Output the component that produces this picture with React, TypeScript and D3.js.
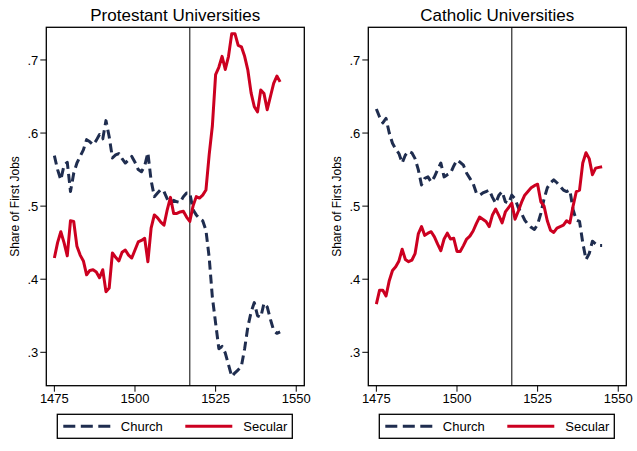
import * as d3 from 'd3';

// years 1475..1545, one reading per year
const years = d3.range(1475, 1546);

const protChurch = [
  0.569, 0.550, 0.536, 0.556, 0.560, 0.520, 0.545, 0.559, 0.568, 0.577,
  0.591, 0.588, 0.584, 0.590, 0.598, 0.592, 0.617, 0.595, 0.566, 0.570,
  0.572, 0.565, 0.559, 0.563, 0.568, 0.560, 0.550, 0.547, 0.555, 0.573,
  0.535, 0.513, 0.518, 0.523, 0.520, 0.510, 0.504, 0.508, 0.506, 0.505,
  0.513, 0.518, 0.518, 0.495, 0.488, 0.483, 0.480, 0.467, 0.430, 0.375,
  0.340, 0.305, 0.308, 0.299, 0.283, 0.267, 0.272, 0.276, 0.281, 0.305,
  0.335, 0.355, 0.368, 0.350, 0.348, 0.367, 0.362, 0.345, 0.330, 0.326,
  0.328,
];
const protSecular = [
  0.429, 0.450, 0.465, 0.450, 0.432, 0.480, 0.479, 0.445, 0.433, 0.425,
  0.406, 0.412, 0.413, 0.410, 0.402, 0.413, 0.383, 0.388, 0.436, 0.430,
  0.425, 0.437, 0.440, 0.433, 0.429, 0.440, 0.451, 0.453, 0.456, 0.424,
  0.470, 0.488, 0.484, 0.478, 0.474, 0.495, 0.512, 0.490, 0.490, 0.492,
  0.493, 0.485, 0.479, 0.500, 0.513, 0.511, 0.515, 0.522, 0.570, 0.610,
  0.680, 0.690, 0.705, 0.687, 0.705, 0.736, 0.736, 0.720, 0.718, 0.705,
  0.686, 0.655, 0.636, 0.629, 0.659, 0.654, 0.632, 0.650, 0.668, 0.678,
  0.670,
];
const cathChurch = [
  0.633, 0.622, 0.614, 0.620, 0.600, 0.586, 0.578, 0.572, 0.559, 0.570,
  0.575, 0.573, 0.565, 0.550, 0.529, 0.538, 0.540, 0.533, 0.540, 0.550,
  0.559, 0.540, 0.543, 0.545, 0.555, 0.563, 0.560, 0.556, 0.545, 0.538,
  0.531, 0.518, 0.515, 0.518, 0.520, 0.522, 0.512, 0.504, 0.515, 0.520,
  0.506, 0.504, 0.515, 0.510, 0.498, 0.490, 0.481, 0.475, 0.471, 0.468,
  0.475, 0.490, 0.510, 0.525, 0.532, 0.536, 0.532, 0.527, 0.522, 0.520,
  0.522, 0.495, 0.481, 0.479, 0.450, 0.427, 0.435, 0.452, 0.448, 0.446,
  0.446,
];
const cathSecular = [
  0.366, 0.385, 0.385, 0.377, 0.398, 0.412, 0.417, 0.425, 0.441, 0.427,
  0.424, 0.426, 0.435, 0.462, 0.472, 0.460, 0.463, 0.465, 0.458, 0.448,
  0.439, 0.455, 0.463, 0.455, 0.456, 0.438, 0.438, 0.446, 0.455, 0.459,
  0.466, 0.476, 0.485, 0.482, 0.479, 0.472, 0.488, 0.496, 0.487, 0.477,
  0.492, 0.498, 0.504, 0.482, 0.493, 0.505, 0.515, 0.520, 0.525, 0.528,
  0.530, 0.506, 0.500, 0.480, 0.467, 0.464, 0.470, 0.472, 0.474, 0.480,
  0.477, 0.500, 0.520, 0.522, 0.559, 0.573, 0.565, 0.543, 0.552, 0.553,
  0.554,
];

const xTicks = [1475, 1500, 1525, 1550];
const yTicks = [0.3, 0.4, 0.5, 0.6, 0.7];
const yTickLabels = ['.3', '.4', '.5', '.6', '.7'];
const reformYear = 1517;
const seriesNames = ['Church', 'Secular'];

const CHURCH = '#1f2d4f';
const SECULAR = '#cc0020';
const FONT = '"Liberation Sans", Arial, sans-serif';

interface PanelProps {
  title: string;
  church: number[];
  secular: number[];
  left: number;
}

const Panel = ({ title, church, secular, left }: PanelProps) => {
  const box = { x0: left, x1: left + 258, y0: 27.3, y1: 385.7 };
  const x = d3.scaleLinear().domain([1472.5, 1552.5]).range([box.x0, box.x1]);
  const y = d3.scaleLinear().domain([0.2543, 0.7447]).range([box.y1, box.y0]);

  const line = d3
    .line<number>()
    .x((_, i) => x(years[i]))
    .y((d) => y(d));

  const legX = left + 11;
  const legY = 414.3;

  return (
    <g>
      <text
        x={(box.x0 + box.x1) / 2}
        y={20.5}
        textAnchor="middle"
        fontSize={17}
        fontFamily={FONT}
        fill="#000"
      >
        {title}
      </text>

      {/* y axis */}
      {yTicks.map((t, i) => (
        <g key={t}>
          <line x1={box.x0 - 6} x2={box.x0} y1={y(t)} y2={y(t)} stroke="#000" strokeWidth={1} />
          <text
            x={box.x0 - 8}
            y={y(t)}
            dy="0.35em"
            textAnchor="end"
            fontSize={13}
            fontFamily={FONT}
            fill="#000"
          >
            {yTickLabels[i]}
          </text>
        </g>
      ))}
      <text
        transform={`translate(${left - 32},${(box.y0 + box.y1) / 2}) rotate(-90)`}
        textAnchor="middle"
        dy="0.35em"
        fontSize={12}
        fontFamily={FONT}
        fill="#000"
      >
        Share of First Jobs
      </text>

      {/* x axis */}
      {xTicks.map((t) => (
        <g key={t}>
          <line x1={x(t)} x2={x(t)} y1={box.y1} y2={box.y1 + 6} stroke="#000" strokeWidth={1} />
          <text
            x={x(t)}
            y={403}
            textAnchor="middle"
            fontSize={13}
            fontFamily={FONT}
            fill="#000"
          >
            {t}
          </text>
        </g>
      ))}

      <line
        x1={x(reformYear)}
        x2={x(reformYear)}
        y1={box.y0}
        y2={box.y1}
        stroke="#000"
        strokeWidth={1}
      />

      <path
        d={line(church) ?? ''}
        fill="none"
        stroke={CHURCH}
        strokeWidth={3}
        strokeDasharray="9,5"
        strokeLinejoin="round"
      />
      <path
        d={line(secular) ?? ''}
        fill="none"
        stroke={SECULAR}
        strokeWidth={3}
        strokeLinejoin="round"
      />

      <rect
        x={box.x0}
        y={box.y0}
        width={box.x1 - box.x0}
        height={box.y1 - box.y0}
        fill="none"
        stroke="#000"
        strokeWidth={1.3}
      />

      {/* legend */}
      <rect x={legX} y={legY} width={235} height={24} fill="#fff" stroke="#000" strokeWidth={1.3} />
      <line
        x1={legX + 6}
        x2={legX + 53}
        y1={legY + 12}
        y2={legY + 12}
        stroke={CHURCH}
        strokeWidth={3}
        strokeDasharray="12,5.5"
      />
      <text x={legX + 63.5} y={legY + 12} dy="0.35em" fontSize={13} fontFamily={FONT} fill="#000">
        {seriesNames[0]}
      </text>
      <line
        x1={legX + 128}
        x2={legX + 175}
        y1={legY + 12}
        y2={legY + 12}
        stroke={SECULAR}
        strokeWidth={3}
      />
      <text x={legX + 186} y={legY + 12} dy="0.35em" fontSize={13} fontFamily={FONT} fill="#000">
        {seriesNames[1]}
      </text>
    </g>
  );
};

export default function App() {
  return (
    <svg
      width={637}
      height={451}
      style={{ position: 'absolute', left: 0, top: 0, background: '#fff' }}
    >
      <rect width={637} height={451} fill="#fff" />
      <Panel title="Protestant Universities" church={protChurch} secular={protSecular} left={46.3} />
      <Panel title="Catholic Universities" church={cathChurch} secular={cathSecular} left={368.3} />
    </svg>
  );
}
